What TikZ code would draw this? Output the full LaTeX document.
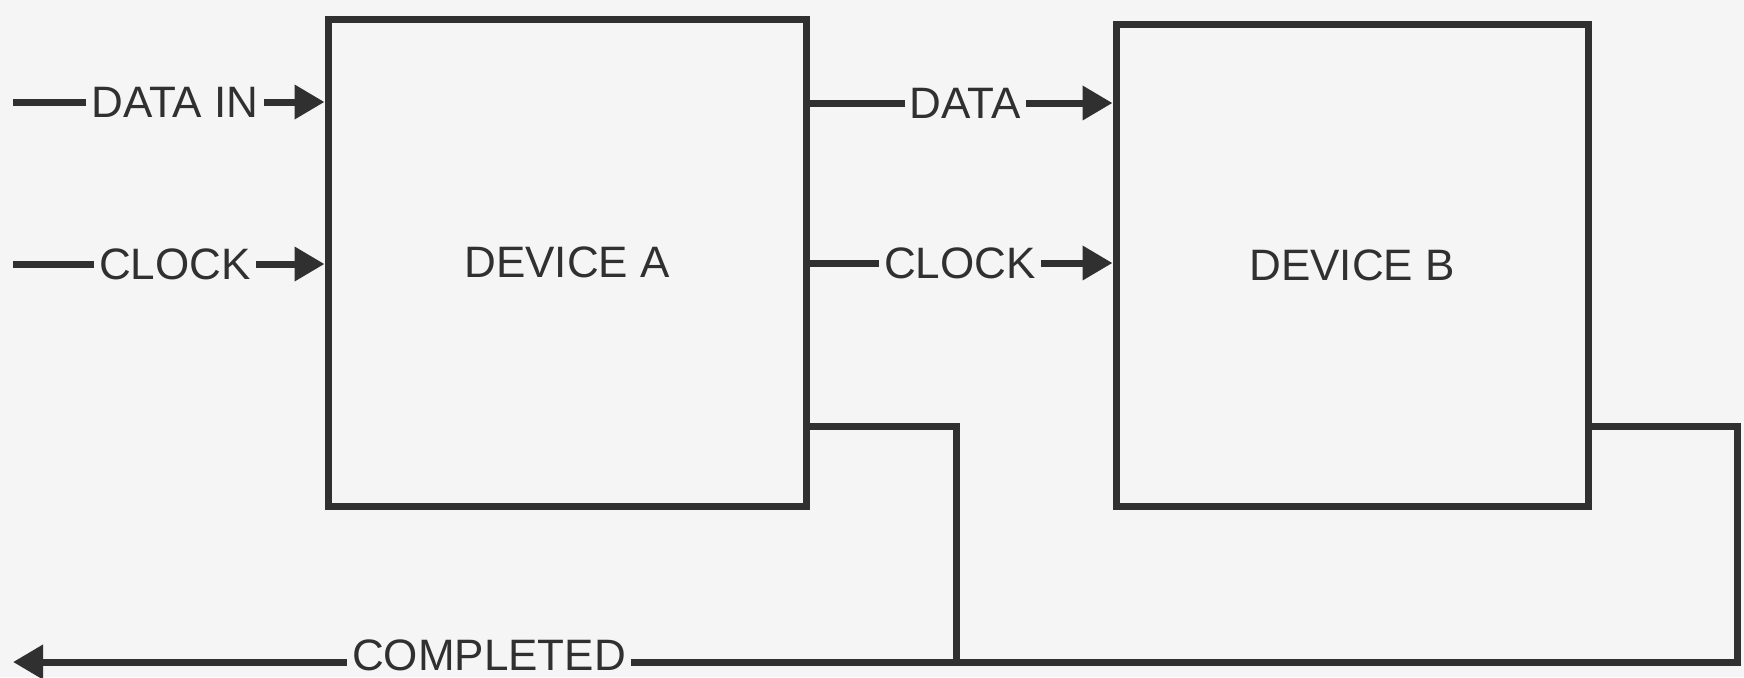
\documentclass[tikz,border=0pt]{standalone}
\usepackage{fontspec}
\setmainfont{Liberation Sans}
\usetikzlibrary{arrows.meta}
\definecolor{bg}{RGB}{245,245,245}
\definecolor{ink}{RGB}{48,48,48}
\begin{document}
\begin{tikzpicture}[x=0.5pt,y=-0.5pt,
  line width=3.5pt, draw=ink, line join=miter,
  box/.style={draw=ink, line width=3.5pt, font=\fontsize{22}{24}\selectfont, text=ink, inner sep=0pt},
  lbl/.style={font=\fontsize{22}{24}\selectfont, text=ink, inner xsep=0.8pt, inner ysep=0pt, text height=15.8pt, text depth=0pt},
  arr/.style={-{Triangle[length=15pt,width=16.5pt]}}]
\fill[bg] (0,0) rectangle (1744,677);
\useasboundingbox (0,0) rectangle (1744,677);
% devices
\node[box, minimum width=239pt, minimum height=243.5pt] (A) at (567,262.5) {DEVICE A};
\node[box, minimum width=236pt, minimum height=241pt] (B) at (1352,265) {DEVICE B};
% inputs of A
\coordinate (inA1) at (13,102);
\coordinate (inA2) at (13,264);
\node[lbl] (dinA) at (175,102) {DATA IN};
\node[lbl] (clkA) at (175,264) {CLOCK};
\draw (inA1) -- (dinA.west);
\draw[arr] (dinA.east) -- (A.west |- dinA);
\draw (inA2) -- (clkA.west);
\draw[arr] (clkA.east) -- (A.west |- clkA);
% A to B
\node[lbl] (dAB) at (965,103) {DATA};
\node[lbl] (cAB) at (960,263) {CLOCK};
\draw (A.east |- dAB) -- (dAB.west);
\draw[arr] (dAB.east) -- (B.west |- dAB);
\draw (A.east |- cAB) -- (cAB.west);
\draw[arr] (cAB.east) -- (B.west |- cAB);
% completed feedback
\coordinate (yF) at (0,426);
\coordinate (j) at (956,662);
\coordinate (r) at (1737,662);
\coordinate (tip) at (13,662);
\node[lbl] (comp) at (489,655) {COMPLETED};
\draw (A.east |- yF) -| (j);
\draw (B.east |- yF) -| (r) -- (j) -- (comp.east |- j);
\draw[arr] (comp.west |- j) -- (tip);
\end{tikzpicture}
\end{document}
